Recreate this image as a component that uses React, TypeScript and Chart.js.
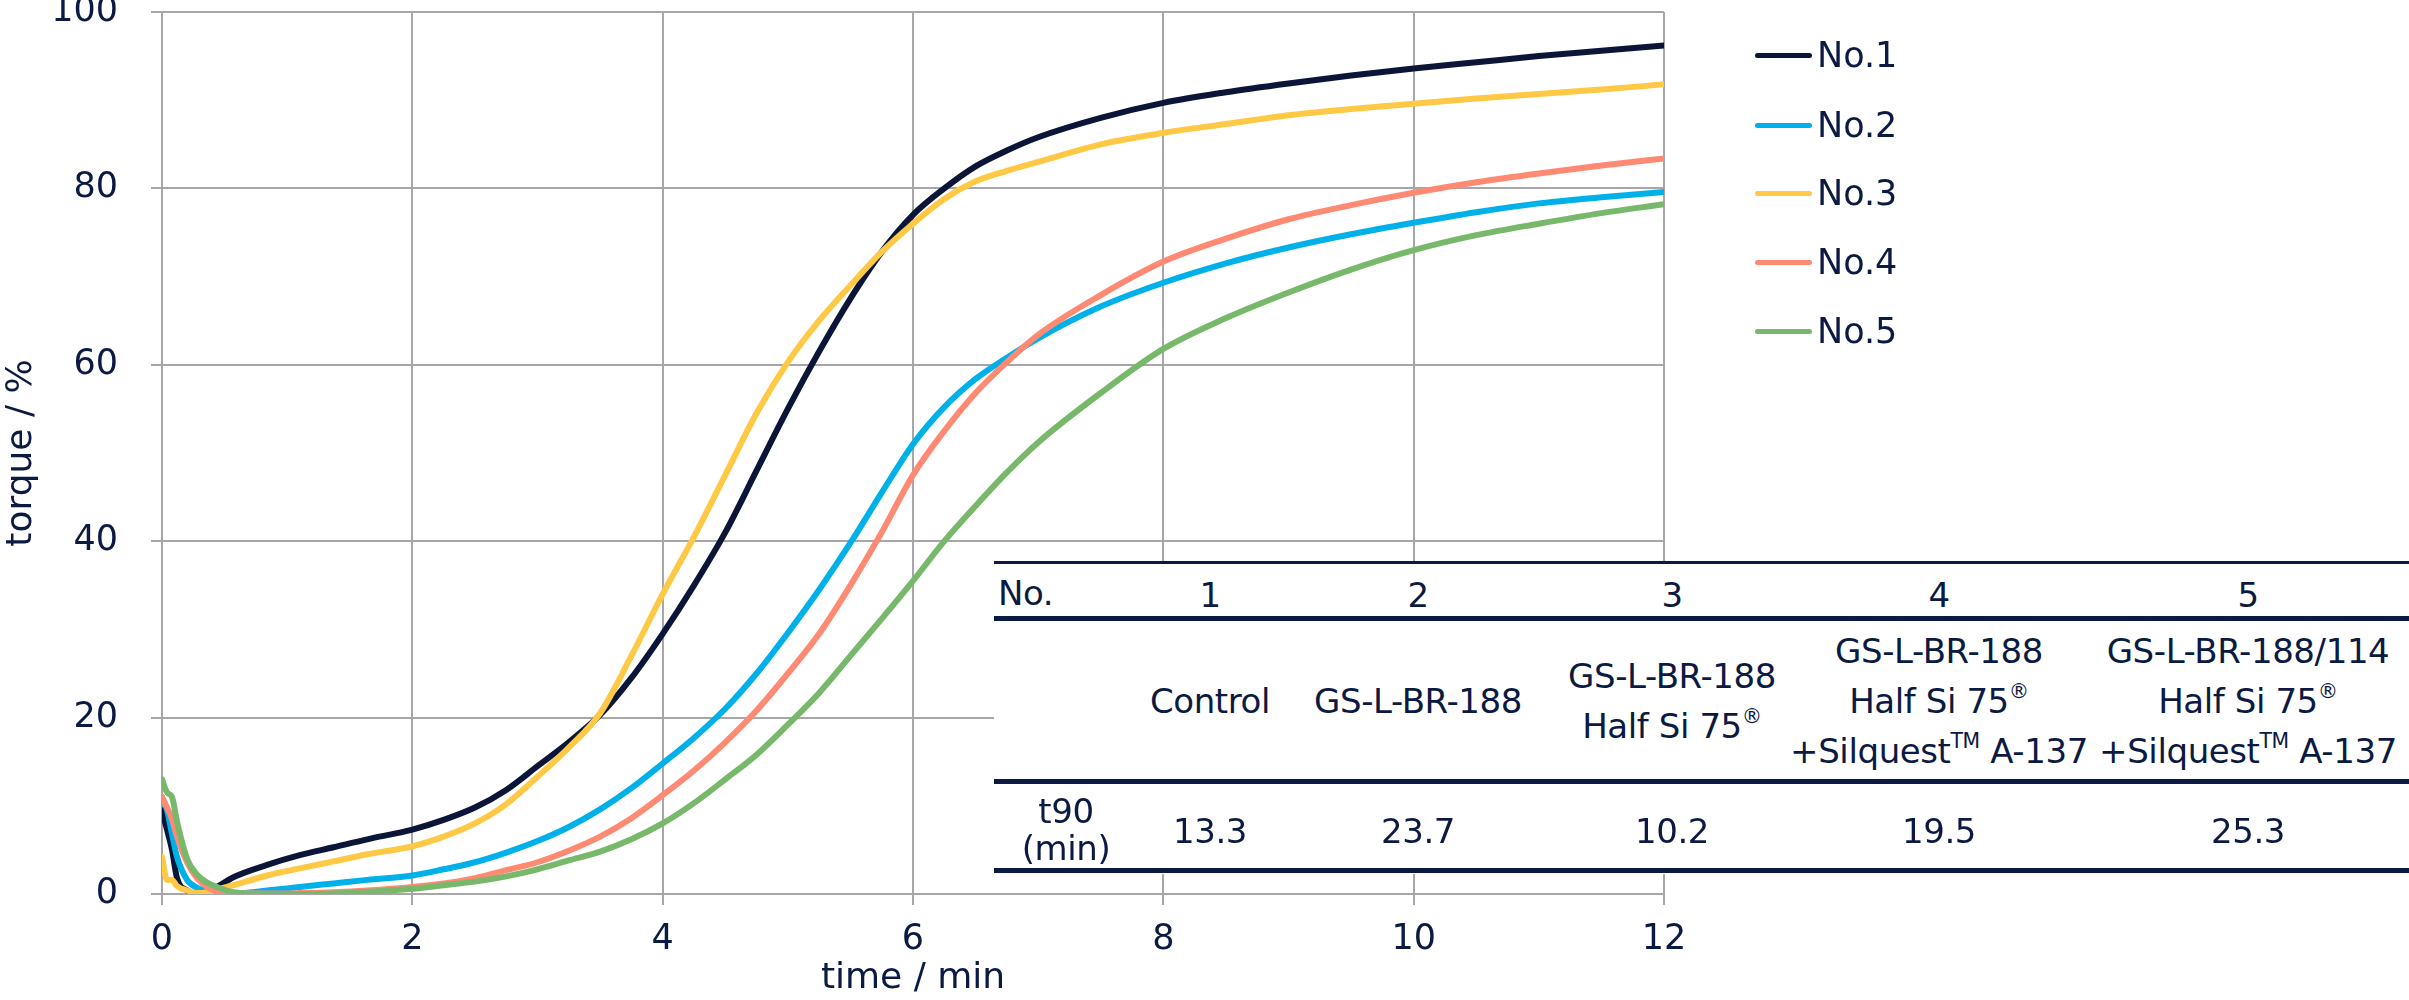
import React, { useEffect, useRef } from "react";
import { Chart, registerables } from "chart.js";

Chart.register(...registerables);

// ---------- data ----------
const timeMin = [0, 0.04, 0.08, 0.12, 0.2, 0.28, 0.36, 0.44, 0.57, 0.84, 1.1, 1.37, 1.64, 2, 2.25, 2.5, 2.75, 3, 3.25, 3.5, 3.75, 4, 4.25, 4.5, 4.75, 5, 5.25, 5.5, 5.75, 6, 6.25, 6.5, 6.75, 7, 7.5, 8, 8.5, 9, 9.5, 10, 10.5, 11, 11.5, 12];

const no1 = [9.5, 7.3, 5, 1.8, 0.4, 0, 0.3, 0.8, 1.9, 3.3, 4.4, 5.3, 6.2, 7.3, 8.4, 9.8, 11.8, 14.5, 17.2, 20.3, 24.5, 29.5, 35, 41, 48, 55, 61.5, 67.5, 72.8, 77, 80, 82.5, 84.3, 85.8, 88, 89.7, 90.9, 91.9, 92.8, 93.6, 94.3, 95, 95.6, 96.2];
const no2 = [11, 9.5, 6.8, 4.2, 1.6, 0.7, 0.3, 0.05, 0.05, 0.4, 0.8, 1.2, 1.6, 2.1, 2.8, 3.6, 4.7, 6, 7.6, 9.6, 12, 14.8, 17.7, 21, 25, 29.6, 34.5, 39.8, 45.5, 51, 55.2, 58.4, 60.8, 63, 66.6, 69.3, 71.5, 73.3, 74.8, 76.1, 77.3, 78.3, 79, 79.6];
const no3 = [4.2, 1.6, 1.6, 0.9, 0.4, 0.1, 0.2, 0.5, 1.0, 2.1, 2.9, 3.7, 4.5, 5.4, 6.5, 8, 10.2, 13.3, 16.6, 20.5, 27, 34, 40.5, 47.5, 54.5, 60.3, 65, 69, 72.8, 76, 78.8, 80.8, 82, 83, 85, 86.3, 87.3, 88.3, 89, 89.6, 90.2, 90.7, 91.2, 91.8];
const no4 = [11, 9.8, 8.5, 6.5, 3.6, 1.8, 0.8, 0.3, 0.1, 0.05, 0.1, 0.2, 0.4, 0.8, 1.2, 1.8, 2.7, 3.6, 4.9, 6.5, 8.6, 11.2, 14, 17.2, 20.8, 25, 29.5, 35, 41, 47.5, 52.5, 56.8, 60.3, 63.4, 67.9, 71.7, 74.3, 76.5, 78.1, 79.5, 80.7, 81.7, 82.6, 83.4];
const no5 = [13, 11.5, 11, 8.2, 4, 2.2, 1.3, 0.8, 0.2, 0, 0, 0.05, 0.25, 0.6, 1, 1.4, 2, 2.8, 3.8, 4.8, 6.2, 8, 10.3, 13, 15.8, 19.2, 22.8, 27, 31.2, 35.5, 40, 44, 47.8, 51.2, 56.8, 61.8, 65.3, 68.2, 70.8, 73, 74.7, 76, 77.2, 78.2];

const seriesLabels = ["No.1", "No.2", "No.3", "No.4", "No.5"];
const seriesValues = [no1, no2, no3, no4, no5];
const seriesColors = ["#0a1538", "#00b1e9", "#ffc845", "#ff8a73", "#77b86b"];

const xTitle = "time / min";
const yTitle = "torque / %";

const tableHeadLabel = "No.";
const tableNumbers = ["1", "2", "3", "4", "5"];
const tableNames = [
  ["Control"],
  ["GS-L-BR-188"],
  ["GS-L-BR-188", "Half Si 75^®"],
  ["GS-L-BR-188", "Half Si 75^®", "+Silquest^TM A-137"],
  ["GS-L-BR-188/114", "Half Si 75^®", "+Silquest^TM A-137"],
];
const t90Label = ["t90", "(min)"];
const t90Values = ["13.3", "23.7", "10.2", "19.5", "25.3"];

// ---------- styling ----------
const FONT = "'DejaVu Sans', sans-serif";
const NAVY = "#0b1a42";
const GRID = "#a7a7ab";
const colCenters = [1210, 1418, 1672, 1939, 2248];
const legendRowsY = [55, 125, 193, 262, 331];

function renderSup(text: string) {
  const parts = text.split(/(\^[^\s]+)/);
  return parts.map((p, i) =>
    p.startsWith("^") ? (
      <span
        key={i}
        style={{ fontSize: "0.6em", position: "relative", top: "-0.72em", lineHeight: 0 }}
      >
        {p.slice(1)}
      </span>
    ) : (
      <span key={i}>{p}</span>
    )
  );
}

export default function App() {
  const canvasRef = useRef<HTMLCanvasElement>(null);

  useEffect(() => {
    document.body.style.margin = "0";
    const canvas = canvasRef.current as HTMLCanvasElement;
    const chart = new Chart(canvas, {
      type: "line",
      data: {
        datasets: seriesLabels.map((label, i) => ({
          label,
          data: timeMin.map((t, j) => ({ x: t, y: seriesValues[i][j] })),
          borderColor: seriesColors[i],
          backgroundColor: seriesColors[i],
          borderWidth: 6,
          pointRadius: 0,
          cubicInterpolationMode: "monotone",
          fill: false,
          order: seriesLabels.length - i,
          borderCapStyle: "round",
          borderJoinStyle: "round",
        })),
      },
      options: {
        responsive: false,
        animation: false,
        devicePixelRatio: 1,
        layout: { padding: { left: 0, top: 12, right: 745, bottom: 0 } },
        plugins: { legend: { display: false }, tooltip: { enabled: false } },
        scales: {
          x: {
            type: "linear",
            min: 0,
            max: 12,
            ticks: {
              stepSize: 2,
              font: { family: FONT, size: 35 },
              color: NAVY,
              padding: 14,
              maxRotation: 0,
            },
            grid: { color: GRID, lineWidth: 2, tickLength: 11 },
            border: { color: GRID, width: 2 },
            title: {
              display: true,
              text: xTitle,
              font: { family: FONT, size: 36 },
              color: NAVY,
              padding: 0,
            },
            afterFit: (s: any) => {
              s.height = 106;
              s.paddingLeft = 0;
              s.paddingRight = 0;
            },
          },
          y: {
            type: "linear",
            min: 0,
            max: 100,
            ticks: {
              stepSize: 20,
              font: { family: FONT, size: 35 },
              color: NAVY,
              padding: 33,
            },
            grid: { color: GRID, lineWidth: 2, tickLength: 11 },
            border: { color: GRID, width: 2 },
            title: {
              display: true,
              text: yTitle,
              font: { family: FONT, size: 36 },
              color: NAVY,
              padding: 0,
            },
            afterFit: (s: any) => {
              s.width = 162;
              s.paddingTop = 0;
              s.paddingBottom = 0;
            },
          },
        },
      } as any,
    });
    return () => chart.destroy();
  }, []);

  const textStyle: React.CSSProperties = {
    position: "absolute",
    fontFamily: FONT,
    color: NAVY,
    fontSize: 35,
    whiteSpace: "nowrap",
  };
  const tableText: React.CSSProperties = {
    ...textStyle,
    fontSize: 34,
    letterSpacing: "-0.4px",
  };

  return (
    <div style={{ position: "relative", width: 2409, height: 1000, background: "#fff", overflow: "hidden" }}>
      <canvas ref={canvasRef} width={2409} height={1000} style={{ position: "absolute", left: 0, top: 0 }} />

      {/* legend */}
      {seriesLabels.map((lab, i) => (
        <React.Fragment key={lab}>
          <div
            style={{
              position: "absolute",
              left: 1755,
              top: legendRowsY[i] - 2.5,
              width: 57,
              height: 5,
              borderRadius: 3,
              background: seriesColors[i],
            }}
          />
          <div
            style={{
              ...textStyle,
              left: 1817,
              top: legendRowsY[i] - 25,
              height: 50,
              lineHeight: "50px",
            }}
          >
            {lab}
          </div>
        </React.Fragment>
      ))}

      {/* table */}
      <div style={{ position: "absolute", left: 994, top: 561, width: 1415, height: 313, background: "#fff" }} />
      <div style={{ position: "absolute", left: 994, top: 561, width: 1415, height: 3, background: NAVY }} />
      <div style={{ position: "absolute", left: 994, top: 616, width: 1415, height: 5, background: NAVY }} />
      <div style={{ position: "absolute", left: 994, top: 779, width: 1415, height: 5, background: NAVY }} />
      <div style={{ position: "absolute", left: 994, top: 868, width: 1415, height: 5, background: NAVY }} />

      <div style={{ ...tableText, left: 998, top: 565, height: 56, lineHeight: "56px" }}>{tableHeadLabel}</div>
      {tableNumbers.map((n, i) => (
        <div
          key={"n" + i}
          style={{
            ...tableText,
            left: colCenters[i] - 150,
            width: 300,
            textAlign: "center",
            top: 567,
            height: 56,
            lineHeight: "56px",
          }}
        >
          {n}
        </div>
      ))}
      {tableNames.map((lines, i) => (
        <div
          key={"m" + i}
          style={{
            ...tableText,
            left: colCenters[i] - 180,
            width: 360,
            top: 621,
            height: 160,
            display: "flex",
            flexDirection: "column",
            alignItems: "center",
            justifyContent: "center",
          }}
        >
          {lines.map((l, k) => (
            <div key={k} style={{ height: 50, lineHeight: "50px" }}>
              {renderSup(l)}
            </div>
          ))}
        </div>
      ))}
      <div
        style={{
          ...tableText,
          left: 1066 - 80,
          width: 160,
          top: 788,
          height: 84,
          display: "flex",
          flexDirection: "column",
          alignItems: "center",
          justifyContent: "center",
        }}
      >
        {t90Label.map((l, k) => (
          <div key={k} style={{ height: 37, lineHeight: "37px" }}>
            {l}
          </div>
        ))}
      </div>
      {t90Values.map((v, i) => (
        <div
          key={"v" + i}
          style={{
            ...tableText,
            left: colCenters[i] - 150,
            width: 300,
            textAlign: "center",
            top: 789,
            height: 84,
            lineHeight: "84px",
          }}
        >
          {v}
        </div>
      ))}
    </div>
  );
}
